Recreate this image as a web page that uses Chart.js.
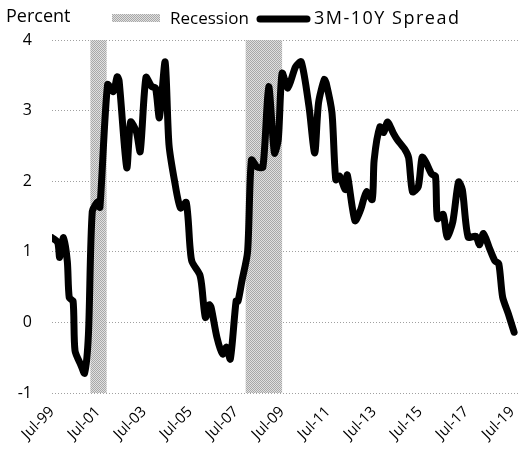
<!DOCTYPE html>
<html>
<head>
<meta charset="utf-8">
<script src="https://cdn.jsdelivr.net/npm/chart.js@4.4.1/dist/chart.umd.min.js"></script>
<style>
  html, body { margin: 0; padding: 0; background: #fff; }
  #wrap { width: 527px; height: 458px; position: relative; }
</style>
</head>
<body>
<div id="wrap"><canvas id="spread"></canvas></div>
<script>
// months counted from Jul-99 (0 = Jul 1999)
var months = [0, 3, 4, 6, 8, 9, 11, 12, 15, 17, 19, 21, 24, 25, 29, 32, 34, 35, 39, 41, 44, 46, 49, 52, 54, 56, 59, 61, 64, 67,
  70, 72, 73, 77, 78, 80, 82, 83, 86, 89, 91, 93, 96, 97, 99, 102, 104, 107, 110, 113, 116, 118, 120, 123, 127, 130, 134, 137, 139, 142,
  143, 146, 148, 150, 153, 154, 158, 161, 164, 167, 168, 171, 173, 175, 178, 180, 184, 186, 188, 191, 193, 195, 198, 200, 201, 204, 206, 209, 212, 214,
  217, 221, 223, 225, 228, 231, 233, 235, 238, 241];
var spread = [1.2, 1.13, 0.92, 1.2, 0.86, 0.35, 0.3, -0.4, -0.6, -0.72, -0.17, 1.57, 1.71, 1.63, 3.37, 3.27, 3.48, 3.42, 2.19, 2.84, 2.7, 2.42, 3.47, 3.34, 3.32, 2.9, 3.69, 2.52, 1.99, 1.62,
  1.7, 1.06, 0.86, 0.68, 0.54, 0.07, 0.25, 0.21, -0.21, -0.45, -0.35, -0.52, 0.3, 0.3, 0.58, 1.0, 2.3, 2.2, 2.2, 3.34, 2.4, 2.59, 3.53, 3.32, 3.62, 3.69, 3.06, 2.4, 3.11, 3.44,
  3.39, 2.97, 2.02, 2.07, 1.88, 2.09, 1.44, 1.6, 1.85, 1.74, 2.3, 2.77, 2.69, 2.84, 2.68, 2.59, 2.45, 2.33, 1.85, 1.92, 2.34, 2.27, 2.1, 2.07, 1.47, 1.53, 1.21, 1.42, 1.99, 1.88,
  1.21, 1.22, 1.1, 1.26, 1.06, 0.87, 0.83, 0.36, 0.12, -0.14];

// recessions (Mar-01 to Nov-01, Dec-07 to Jun-09)
var recessionStart = [20, 101];
var recessionEnd = [28.5, 120];

var tickMonths = [0, 24, 48, 72, 96, 120, 144, 168, 192, 216, 240];
var tickLabels = ['Jul-99', 'Jul-01', 'Jul-03', 'Jul-05', 'Jul-07', 'Jul-09', 'Jul-11', 'Jul-13', 'Jul-15', 'Jul-17', 'Jul-19'];

var fontName = '"Open Sans", "DejaVu Sans", sans-serif';

function makePattern(ctx) {
  var c = document.createElement('canvas');
  c.width = 2; c.height = 2;
  var p = c.getContext('2d');
  p.fillStyle = '#e0e0e0'; p.fillRect(0, 0, 2, 2);
  p.fillStyle = '#a8a8a8'; p.fillRect(0, 0, 1, 1); p.fillRect(1, 1, 1, 1);
  return ctx.createPattern(c, 'repeat');
}

var recessionBands = {
  id: 'recessionBands',
  beforeDatasetsDraw: function (chart) {
    var ctx = chart.ctx, x = chart.scales.x, area = chart.chartArea;
    ctx.save();
    ctx.fillStyle = makePattern(ctx);
    for (var i = 0; i < recessionStart.length; i++) {
      var x0 = x.getPixelForValue(recessionStart[i]);
      var x1 = x.getPixelForValue(recessionEnd[i]);
      ctx.fillRect(x0, area.top, x1 - x0, area.bottom - area.top);
    }
    ctx.restore();
  }
};

var legendAndTitle = {
  id: 'legendAndTitle',
  afterDraw: function (chart) {
    var ctx = chart.ctx;
    ctx.save();
    ctx.fillStyle = '#000';
    ctx.font = '18px ' + fontName;
    ctx.textBaseline = 'middle';
    ctx.textAlign = 'left';
    ctx.fillText('Percent', 6, 17);
    ctx.fillStyle = makePattern(ctx);
    ctx.fillRect(112, 14, 48, 8);
    ctx.fillStyle = '#000';
    ctx.font = '17px ' + fontName;
    ctx.fillText('Recession', 170, 19);
    ctx.lineWidth = 7;
    ctx.lineCap = 'round';
    ctx.beginPath();
    ctx.moveTo(260, 19);
    ctx.lineTo(307, 19);
    ctx.stroke();
    ctx.font = '18px ' + fontName;
    ctx.letterSpacing = '1.5px';
    ctx.fillText('3M-10Y Spread', 314, 19);
    ctx.restore();
  }
};

var points = months.map(function (m, i) { return { x: m, y: spread[i] }; });

new Chart(document.getElementById('spread'), {
  type: 'line',
  data: {
    datasets: [{
      label: '3M-10Y Spread',
      data: points,
      borderColor: '#000',
      borderWidth: 7,
      pointRadius: 0,
      tension: 0.25,
      borderJoinStyle: 'round',
      borderCapStyle: 'round'
    }]
  },
  options: {
    responsive: true,
    maintainAspectRatio: false,
    animation: false,
    layout: { padding: { top: 40, right: 5, left: 0, bottom: 0 } },
    plugins: { legend: { display: false }, tooltip: { enabled: false } },
    scales: {
      x: {
        type: 'linear',
        min: 0,
        max: 243.5,
        afterBuildTicks: function (scale) {
          scale.ticks = tickMonths.map(function (v) { return { value: v }; });
        },
        afterFit: function (scale) { scale.height = 65; },
        ticks: {
          autoSkip: false,
          minRotation: 45,
          maxRotation: 45,
          padding: 2,
          color: '#000',
          font: { family: fontName, size: 15 },
          callback: function (v) {
            var i = tickMonths.indexOf(v);
            return i >= 0 ? tickLabels[i] : '';
          }
        },
        grid: { display: false },
        border: { display: false }
      },
      y: {
        min: -1,
        max: 4,
        afterFit: function (scale) { scale.width = 52; },
        ticks: {
          stepSize: 1,
          padding: 20,
          color: '#000',
          font: { family: fontName, size: 16 }
        },
        grid: {
          color: '#a0a0a0',
          lineWidth: 1,
          drawTicks: false
        },
        border: { display: false, dash: [1, 2] }
      }
    }
  },
  plugins: [recessionBands, legendAndTitle]
});
</script>
</body>
</html>
